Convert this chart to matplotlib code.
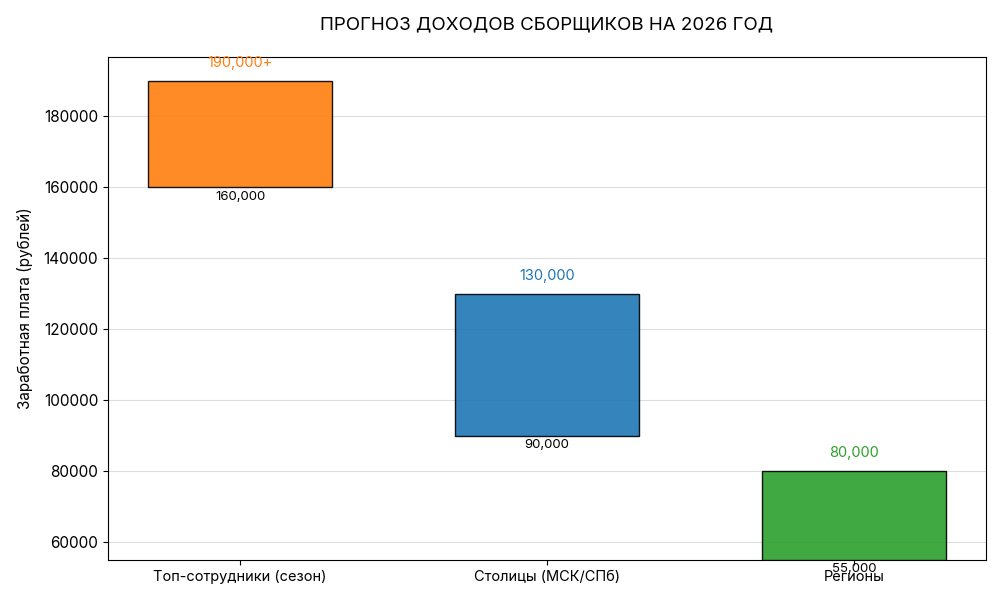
import matplotlib
matplotlib.use("Agg")
import matplotlib.pyplot as plt

categories = ["Топ-сотрудники (сезон)", "Столицы (МСК/СПб)", "Регионы"]
low_values = [160000, 90000, 55000]
high_values = [190000, 130000, 80000]
top_labels = ["190,000+", "130,000", "80,000"]
low_labels = ["160,000", "90,000", "55,000"]
colors = ["#ff7f0e", "#1f77b4", "#2ca02c"]

plt.rcParams['font.family'] = ['Inter', 'DejaVu Sans']

fig, ax = plt.subplots(figsize=(10, 6), dpi=100)
fig.subplots_adjust(left=0.108, right=0.986, top=0.905, bottom=0.067)

x = range(len(categories))
heights = [h - l for h, l in zip(high_values, low_values)]
ax.bar(x, heights, bottom=low_values, width=0.6, color=colors, alpha=0.9,
       edgecolor="black", linewidth=1, zorder=3)

for i in x:
    ax.text(i, high_values[i] + 3000, top_labels[i], ha="center", va="bottom",
            color=colors[i], fontsize=10.5)
    ax.text(i, low_values[i] - 1000, low_labels[i], ha="center", va="top",
            color="black", fontsize=9.5)

ax.set_xticks(list(x))
ax.set_xticklabels(categories, fontsize=10.5)
ax.tick_params(axis="y", labelsize=11)
ax.set_ylim(bottom=55000)
ax.set_ylabel("Заработная плата (рублей)", fontsize=11, labelpad=8)
ax.set_title("ПРОГНОЗ ДОХОДОВ СБОРЩИКОВ НА 2026 ГОД", fontsize=13.5, pad=20)
ax.grid(axis="y", color="#dddddd", linewidth=0.8, zorder=0)
ax.set_axisbelow(True)

fig.savefig("out.png", dpi=100)
